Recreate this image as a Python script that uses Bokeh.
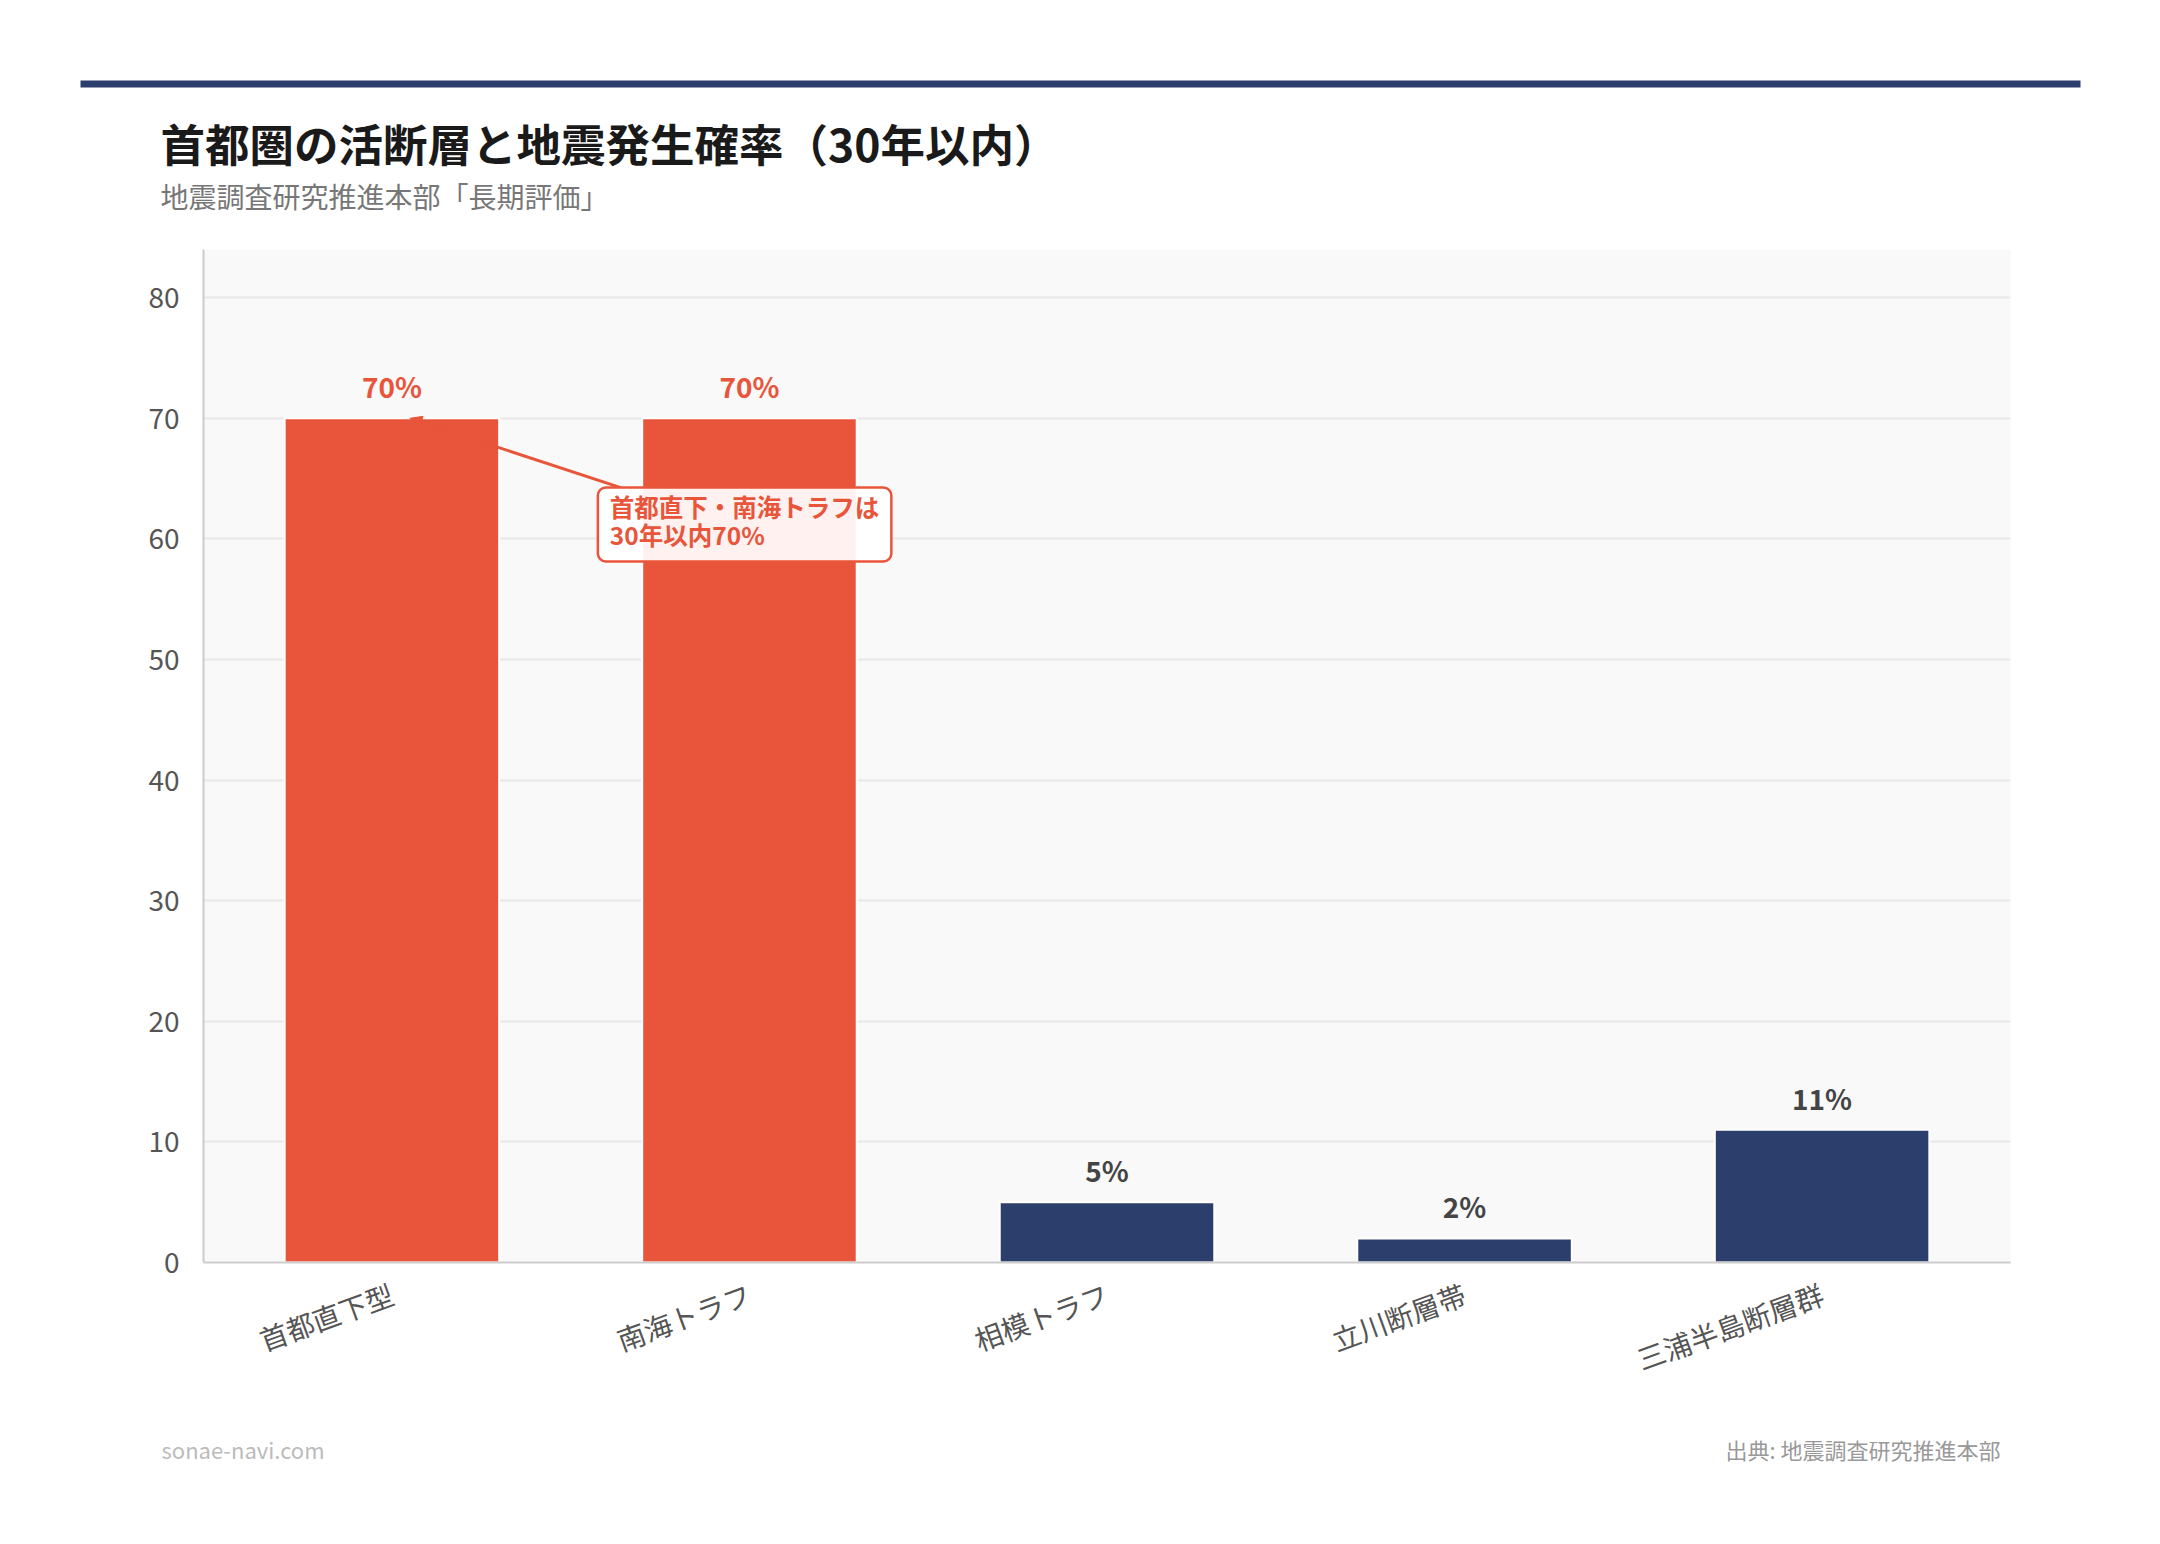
from bokeh.plotting import figure
from bokeh.layouts import column
from bokeh.models import (Range1d, FixedTicker, Label, ColumnDataSource, Arrow, NormalHead)
from bokeh.core.properties import value
from bokeh.embed import file_html
from bokeh.resources import INLINE

# ---- data ----
categories = ["首都直下型", "南海トラフ", "相模トラフ", "立川断層帯", "三浦半島断層群"]
probabilities = [70, 70, 5, 2, 11]
value_labels = ["70%", "70%", "5%", "2%", "11%"]
y_ticks = [0, 10, 20, 30, 40, 50, 60, 70, 80]

title_text = "首都圏の活断層と地震発生確率（30年以内）"
subtitle_text = "地震調査研究推進本部「長期評価」"
callout_text = "首都直下・南海トラフは\n30年以内70%"
footer_left = "sonae-navi.com"
footer_right = "出典: 地震調査研究推進本部"

RED = "#E8553B"
NAVY = "#2C3E6B"
bar_colors = [RED, RED, NAVY, NAVY, NAVY]
label_colors = [RED, RED, "#444444", "#444444", "#444444"]

FONT = "Noto Sans CJK JP"
W = 2144
HEADER_H = 230
MAIN_H = 1172
FOOTER_H = 126


def blank(height):
    f = figure(width=W, height=height, output_backend="svg", toolbar_location=None,
               x_range=Range1d(0, W), y_range=Range1d(height, 0),
               x_axis_type=None, y_axis_type=None, min_border=0)
    f.outline_line_color = None
    f.background_fill_color = "white"
    f.border_fill_color = "white"
    f.frame_align = False
    return f


# ---- header ----
header = blank(HEADER_H)
header.quad(left=[80], right=[2080], top=[80], bottom=[87], fill_color=NAVY, line_color=None)
header.text(x=[160], y=[142], text=[title_text], text_font=value(FONT),
            text_font_style="bold", text_font_size="44.5px", text_color="#1A1A1A",
            text_baseline="middle", text_align="left")
header.text(x=[160], y=[195], text=[subtitle_text], text_font=value(FONT),
            text_font_size="28px", text_color="#777777",
            text_baseline="middle", text_align="left")

# ---- main chart ----
x_idx = list(range(len(categories)))
src = ColumnDataSource(dict(x=x_idx, top=probabilities, color=bar_colors,
                            lab=value_labels, lcolor=label_colors))

p = figure(width=W, height=MAIN_H, output_backend="svg", toolbar_location=None,
           x_range=Range1d(-0.527, 4.527), y_range=Range1d(0, 84),
           min_border_left=203, min_border_right=134, min_border_top=19,
           min_border_bottom=140)
p.frame_align = False
p.background_fill_color = "#F9F9F9"
p.border_fill_color = "white"
p.outline_line_color = None

p.vbar(x="x", top="top", width=0.6, bottom=0, source=src, fill_color="color",
       line_color="white", line_width=2)

p.text(x="x", y="top", text="lab", source=src, text_color="lcolor",
       text_font=value(FONT), text_font_style="bold", text_font_size="28px",
       text_align="center", text_baseline="alphabetic", y_offset=-32)

p.xaxis.ticker = FixedTicker(ticks=x_idx)
p.xaxis.major_label_overrides = {i: c for i, c in zip(x_idx, categories)}
p.xaxis.major_label_orientation = 0.349
p.xaxis.major_label_text_font = FONT
p.xaxis.major_label_text_font_size = "28px"
p.xaxis.major_label_text_color = "#555555"
p.xaxis.major_tick_line_color = None
p.xaxis.minor_tick_line_color = None
p.xaxis.axis_line_color = "#CCCCCC"
p.xaxis.axis_line_width = 2
p.xaxis.major_label_standoff = 24

p.yaxis.ticker = FixedTicker(ticks=y_ticks)
p.yaxis.major_label_text_font = FONT
p.yaxis.major_label_text_font_size = "28px"
p.yaxis.major_label_text_color = "#555555"
p.yaxis.major_tick_line_color = None
p.yaxis.minor_tick_line_color = None
p.yaxis.axis_line_color = "#CCCCCC"
p.yaxis.axis_line_width = 2
p.yaxis.major_label_standoff = 18

p.xgrid.grid_line_color = None
p.ygrid.grid_line_color = "#E8E8E8"
p.ygrid.grid_line_width = 2

# callout
p.add_layout(Arrow(x_start=0.64, y_start=64.26, x_end=0.05, y_end=70,
                   line_color=RED, line_width=3,
                   end=NormalHead(size=12, fill_color=RED, line_color=RED)))
p.add_layout(Label(x=0.576, y=64.26, text=callout_text,
                   anchor="top_left", text_font=FONT, text_font_style="bold",
                   text_font_size="24.5px", text_color=RED, text_line_height=0.8,
                   padding=dict(left=12, right=12, top=1, bottom=10),
                   background_fill_color="white", background_fill_alpha=0.92,
                   border_line_color=RED, border_line_width=2.5, border_radius=8))

# ---- footer ----
footer = blank(FOOTER_H)
footer.text(x=[161], y=[46], text=[footer_left], text_font=value(FONT),
            text_font_size="22px", text_color="#BBBBBB",
            text_baseline="middle", text_align="left")
footer.text(x=[2000], y=[46], text=[footer_right], text_font=value(FONT),
            text_font_size="22px", text_color="#999999",
            text_baseline="middle", text_align="right")

layout = column(header, p, footer, spacing=0)
open("out.html", "w").write(file_html(layout, INLINE))
